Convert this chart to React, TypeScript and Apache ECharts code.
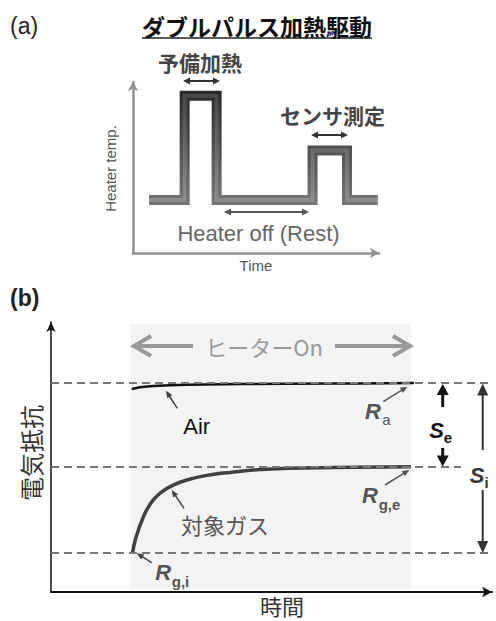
import React, { useEffect, useRef } from 'react';
import * as echarts from 'echarts';

// ---------- Panel (a): double-pulse heater temperature profile ----------
// time in arbitrary units (0-100), heater temperature in arbitrary units (0-100)
const pulseTime = [6.5, 21, 21, 34, 34, 73, 73, 87, 87, 99.5];
const pulseTemp = [31, 31, 92, 92, 31, 31, 60, 60, 31, 31];

// ---------- Panel (b): sensor resistance vs time ----------
const airTime = [18.3, 20.2, 23.2, 30.8, 42.9, 63.9, 82.3];
const airRes = [75.2, 75.8, 76.3, 76.8, 77.0, 77.2, 77.4];
const gasTime = [18.5, 19.0, 19.8, 20.6, 21.7, 23.2, 25.1, 27.7, 30.8, 35.3, 40.6, 48.9, 63.9, 81.6];
const gasRes = [14.6, 18.6, 22.9, 26.4, 30.4, 34.1, 37.1, 39.6, 41.5, 43.2, 44.3, 45.5, 46.1, 46.4];
const levelNames = ['Ra', 'Rg,e', 'Rg,i'];
const levelValues = [77.5, 46.4, 14.6];
const heaterOnSpan = [18.1, 81.6];
const heaterOnRes = [1.5, 99.3];

const CJK = '"Noto Sans CJK JP", "Noto Sans CJK SC", sans-serif';
const LAT = '"Liberation Sans", Arial, sans-serif';

function txt(x: number, y: number, text: string, o: any = {}) {
  return {
    type: 'text',
    x,
    y,
    rotation: o.rotation || 0,
    z: 100,
    style: {
      text,
      fill: o.color || '#222',
      fontSize: o.size || 16,
      fontFamily: o.family || CJK,
      fontWeight: o.weight || 'normal',
      fontStyle: o.style || 'normal',
      align: o.align || 'center',
      verticalAlign: 'middle',
    },
  };
}

function head(tx: number, ty: number, fx: number, fy: number, len: number, w: number, color: string) {
  const a = Math.atan2(ty - fy, tx - fx);
  const bx = tx - len * Math.cos(a);
  const by = ty - len * Math.sin(a);
  const px = (-Math.sin(a) * w) / 2;
  const py = (Math.cos(a) * w) / 2;
  return {
    type: 'polygon',
    z: 100,
    shape: { points: [[tx, ty], [bx + px, by + py], [bx - px, by - py]] },
    style: { fill: color },
  };
}

function line(x1: number, y1: number, x2: number, y2: number, color: string, width: number) {
  return {
    type: 'line',
    z: 100,
    shape: { x1, y1, x2, y2 },
    style: { stroke: color, lineWidth: width },
  };
}

// arrow with tip at (x2,y2); both=true puts a head at (x1,y1) too
function arrow(x1: number, y1: number, x2: number, y2: number, color: string, width: number, len: number, w: number, both = false) {
  const a = Math.atan2(y2 - y1, x2 - x1);
  const sx = both ? x1 + (len - 1) * Math.cos(a) : x1;
  const sy = both ? y1 + (len - 1) * Math.sin(a) : y1;
  const ex = x2 - (len - 1) * Math.cos(a);
  const ey = y2 - (len - 1) * Math.sin(a);
  const els: any[] = [line(sx, sy, ex, ey, color, width), head(x2, y2, x1, y1, len, w, color)];
  if (both) els.push(head(x1, y1, x2, y2, len, w, color));
  return els;
}

function chevron(tipX: number, y: number, dir: number, color: string) {
  return {
    type: 'polyline',
    z: 100,
    shape: { points: [[tipX - dir * 17, y - 10], [tipX, y], [tipX - dir * 17, y + 10]] },
    style: { stroke: color, lineWidth: 4, fill: 'none', lineJoin: 'miter' },
  };
}

export default function App() {
  const ref = useRef<HTMLDivElement>(null);

  useEffect(() => {
    if (!ref.current) return;
    const chart = echarts.init(ref.current, undefined, { renderer: 'svg' });

    const pulseData = pulseTime.map((t, i) => [t, pulseTemp[i]]);
    const airData = airTime.map((t, i) => [t, airRes[i]]);
    const gasData = gasTime.map((t, i) => [t, gasRes[i]]);

    const hidden = { axisTick: { show: false }, axisLabel: { show: false }, splitLine: { show: false } };

    const graphics: any[] = [
      // ---- panel (a) ----
      txt(10, 26, '(a)', { size: 23, family: LAT, align: 'left', color: '#222' }),
      txt(257, 26, 'ダブルパルス加熱駆動', { size: 23, weight: 'bold', color: '#111' }),
      line(142, 38, 372, 38, '#222', 1.5),
      txt(200, 62, '予備加熱', { size: 21, weight: 'bold', color: '#444' }),
      ...arrow(183, 81, 220, 81, '#333', 2, 7, 7, true),
      txt(332.5, 115, 'センサ測定', { size: 21, weight: 'bold', color: '#444' }),
      ...arrow(311, 135, 348, 135, '#333', 2, 7, 7, true),
      txt(258.5, 233, 'Heater off (Rest)', { size: 22, family: LAT, color: '#666' }),
      ...arrow(224, 212, 309, 212, '#555', 2, 7, 7, true),
      txt(110, 168.5, 'Heater temp.', { size: 15, family: LAT, color: '#555', rotation: Math.PI / 2 }),
      txt(256, 265, 'Time', { size: 15, family: LAT, color: '#555' }),

      // ---- panel (b) ----
      txt(10, 298, '(b)', { size: 23, family: LAT, weight: 'bold', align: 'left', color: '#222' }),
      txt(264, 346, 'ヒーターOn', { size: 22, color: '#999' }),
      line(136, 346, 193, 346, '#999', 4),
      chevron(134, 346, -1, '#999'),
      line(335, 346, 408, 346, '#999', 4),
      chevron(410, 346, 1, '#999'),

      txt(196.7, 426.7, 'Air', { size: 22, family: LAT, color: '#111' }),
      ...arrow(177.3, 408.3, 166, 390.7, '#444', 1.5, 7, 6),

      txt(373, 411.5, 'R', { size: 22, family: LAT, weight: 'bold', style: 'italic', color: '#555' }),
      txt(386.5, 419.5, 'a', { size: 15, family: LAT, color: '#555' }),
      ...arrow(383.3, 401.7, 407.3, 386.7, '#555', 1.5, 7, 6),

      txt(370, 495.5, 'R', { size: 22, family: LAT, weight: 'bold', style: 'italic', color: '#555' }),
      txt(389.5, 504.5, 'g,e', { size: 15, family: LAT, weight: 'bold', color: '#555' }),
      ...arrow(385, 485, 409.3, 470, '#555', 1.5, 7, 6),

      txt(225, 524, '対象ガス', { size: 22, color: '#555' }),
      ...arrow(184, 508.3, 171.7, 490, '#444', 1.5, 7, 6),

      txt(163.3, 572.5, 'R', { size: 22, family: LAT, weight: 'bold', style: 'italic', color: '#555' }),
      txt(180.5, 581, 'g,i', { size: 15, family: LAT, weight: 'bold', color: '#555' }),
      ...arrow(151.7, 562.7, 136.7, 553.3, '#444', 1.5, 7, 6),

      // S_e double arrow
      ...arrow(442.7, 407, 442.7, 384, '#111', 3, 11, 12),
      ...arrow(442.7, 448, 442.7, 466.5, '#111', 3, 11, 12),
      txt(436.7, 430.5, 'S', { size: 22, family: LAT, weight: 'bold', style: 'italic', color: '#111' }),
      txt(448, 437, 'e', { size: 15, family: LAT, weight: 'bold', color: '#111' }),

      // S_i double arrow
      { type: 'rect', z: 99, shape: { x: 461, y: 453, width: 35, height: 35 }, style: { fill: '#fff' } },
      ...arrow(482.7, 450, 482.7, 383.5, '#333', 2, 12, 11),
      ...arrow(482.7, 490, 482.7, 553, '#333', 2, 12, 11),
      txt(477, 475.8, 'S', { size: 22, family: LAT, weight: 'bold', style: 'italic', color: '#333' }),
      txt(486.5, 482, 'i', { size: 15, family: LAT, weight: 'bold', color: '#333' }),

      txt(30, 453, '電気抵抗', { size: 24, color: '#333', rotation: Math.PI / 2 }),
      txt(282, 605, '時間', { size: 22, color: '#333' }),
    ];

    const bevel = (a: string, b: string) =>
      new echarts.graphic.LinearGradient(0, 0, 0, 1, [
        { offset: 0, color: a },
        { offset: 1, color: b },
      ]);

    chart.setOption({
      animation: false,
      backgroundColor: '#ffffff',
      grid: [
        { left: 133, top: 82, width: 246, height: 171 },
        { left: 51, top: 322, width: 441, height: 270 },
      ],
      xAxis: [
        {
          gridIndex: 0, type: 'value', min: 0, max: 100, ...hidden,
          axisLine: { show: true, onZero: false, symbol: ['none', 'arrow'], symbolSize: [8, 9], lineStyle: { color: '#909090', width: 2.5 } },
        },
        {
          gridIndex: 1, type: 'value', min: 0, max: 100, ...hidden,
          axisLine: { show: true, onZero: false, symbol: ['none', 'arrow'], symbolSize: [8, 10], lineStyle: { color: '#111', width: 2 } },
        },
      ],
      yAxis: [
        {
          gridIndex: 0, type: 'value', min: 0, max: 100, ...hidden,
          axisLine: { show: true, onZero: false, symbol: ['none', 'arrow'], symbolSize: [8, 9], lineStyle: { color: '#909090', width: 2.5 } },
        },
        {
          gridIndex: 1, type: 'value', min: 0, max: 100, ...hidden,
          axisLine: { show: true, onZero: false, symbol: ['none', 'arrow'], symbolSize: [7, 10], lineStyle: { color: '#111', width: 1.5 } },
        },
      ],
      series: [
        {
          type: 'line', xAxisIndex: 0, yAxisIndex: 0, data: pulseData, symbol: 'none', silent: true, z: 3,
          lineStyle: { width: 10, color: bevel('#2c2c2c', '#737373'), join: 'miter', cap: 'butt' },
        },
        {
          type: 'line', xAxisIndex: 0, yAxisIndex: 0, data: pulseData, symbol: 'none', silent: true, z: 4,
          lineStyle: { width: 4, color: bevel('#4a4a4a', '#8e8e8e'), join: 'miter', cap: 'butt', opacity: 0.9 },
        },
        {
          type: 'line', xAxisIndex: 1, yAxisIndex: 1, data: [], symbol: 'none', silent: true, z: 1,
          markArea: {
            silent: true,
            itemStyle: { color: '#f3f3f3' },
            data: [[{ coord: [heaterOnSpan[0], heaterOnRes[0]] }, { coord: [heaterOnSpan[1], heaterOnRes[1]] }]],
          },
          markLine: {
            silent: true,
            symbol: 'none',
            label: { show: false },
            lineStyle: { type: [8, 5], color: '#777', width: 2 },
            data: levelValues.map((v, i) => ({ name: levelNames[i], yAxis: v })),
          },
        },
        {
          type: 'line', xAxisIndex: 1, yAxisIndex: 1, data: airData, symbol: 'none', silent: true, z: 3,
          smooth: 0.4,
          lineStyle: { width: 2.5, color: '#111' },
        },
        {
          type: 'line', xAxisIndex: 1, yAxisIndex: 1, data: gasData, symbol: 'none', silent: true, z: 3,
          smooth: 0.4,
          lineStyle: { width: 3.5, color: '#404040' },
        },
      ],
      graphic: { elements: graphics },
    });

    return () => chart.dispose();
  }, []);

  return <div ref={ref} style={{ position: 'absolute', left: 0, top: 0, width: 496, height: 621 }} />;
}
